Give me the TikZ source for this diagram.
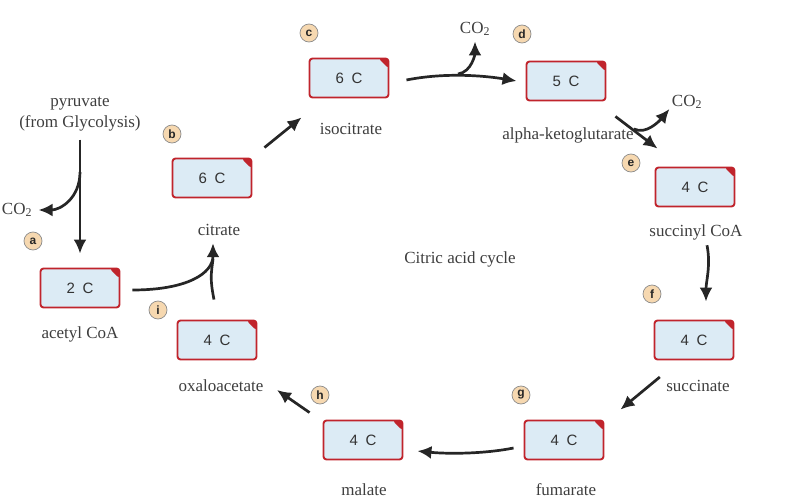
\documentclass[tikz,border=0pt]{standalone}
\usepackage{fontspec}
\setmainfont{Liberation Serif}
\setsansfont{Liberation Sans}
\usetikzlibrary{arrows.meta}
\definecolor{doden}{RGB}{192,36,44}
\definecolor{xanhnhat}{RGB}{220,235,245}
\definecolor{vangnau}{RGB}{246,216,176}
\definecolor{chuxam}{RGB}{62,62,62}
\begin{document}
\begin{tikzpicture}[x=1pt,y=-1pt]
	\tikzset{
		every node/.style={font=\fontsize{17}{21}\selectfont,text=chuxam},
		% hop so cacbon
		hop/.style={draw=doden,fill=xanhnhat,line width=1.9pt,rounded corners=3pt,minimum width=79pt,minimum height=39pt,
			font=\sffamily\fontsize{15}{17}\selectfont,text=black!80,
			path picture={\fill[doden] ([xshift=-10pt]path picture bounding box.north east)--(path picture bounding box.north east)--([yshift=-10pt]path picture bounding box.north east)--cycle;}},
		% buoc phan ung
		buoc/.style={circle,draw=black!45,fill=vangnau,line width=.7pt,inner sep=0pt,minimum size=18pt,
			font=\sffamily\bfseries\fontsize{12}{12}\selectfont,text=black!85},
		% mui ten
		muiten/.style={line width=2.7pt,draw=black!85,-{Latex[length=14pt,width=13pt]}},
		duong/.style={line width=2.7pt,draw=black!85},
	}
	\useasboundingbox (0,0) rectangle (796,498);
	%
	\node[hop] (h2) at (80,288) {2\enspace C};
	\node[hop] (h6b) at (212,178) {6\enspace C};
	\node[hop] (h6c) at (349,78) {6\enspace C};
	\node[hop] (h5) at (566,81) {5\enspace C};
	\node[hop] (h4e) at (695,187) {4\enspace C};
	\node[hop] (h4f) at (694,340) {4\enspace C};
	\node[hop] (h4g) at (564,440) {4\enspace C};
	\node[hop] (h4h) at (363,440) {4\enspace C};
	\node[hop] (h4i) at (217,340) {4\enspace C};
	%
	\node[buoc] (a) at (33,241) {a};
	\node[buoc] (b) at (172,134) {b};
	\node[buoc] (c) at (309,33) {c};
	\node[buoc] (d) at (522,34) {d};
	\node[buoc] (e) at (631,163) {e};
	\node[buoc] (f) at (652,294) {f};
	\node[buoc] (g) at (521,395) {g};
	\node[buoc] (h) at (320,395) {h};
	\node[buoc] (i) at (158,310) {i};
	%
	\node[align=center] (pyr) at (80,114) {pyruvate\\(from Glycolysis)};
	\node (co2a) at (17,210) {CO\textsubscript{2}};
	\node (co2b) at (475,29) {CO\textsubscript{2}};
	\node (co2c) at (687,102) {CO\textsubscript{2}};
	\node (acetyl) at (80,334) {acetyl CoA};
	\node (cit) at (219,230) {citrate};
	\node (iso) at (351,129) {isocitrate};
	\node (akg) at (568,135) {alpha-ketoglutarate};
	\node (sucl) at (696,232) {succinyl CoA};
	\node (succ) at (698,386) {succinate};
	\node (oxa) at (221,386) {oxaloacetate};
	\node (mal) at (364,490) {malate};
	\node (fum) at (566,490) {fumarate};
	\node (chutrinh) at (460,259) {Citric acid cycle};
	%
	\coordinate (r0) at (80,172);
	\coordinate (r1) at (458,74);
	\coordinate (r2) at (634,129);
	%
	\draw[muiten] ([yshift=-5pt]pyr.south) -- ([yshift=14pt]h2.north);
	\draw[muiten] (r0) .. controls +(0,26) and +(22,0) .. ([xshift=3pt]co2a.east);
	\draw[muiten] ([shift={(12pt,-2pt)}]h2.east) .. controls +(55,0) and +(0,30) .. ([shift={(-6pt,-4pt)}]cit.south);
	\draw[duong] ([shift={(-3pt,20pt)}]h4i.north) .. controls +(-4,-20) and +(-2,15) .. ([shift={(-6pt,-20pt)}]cit.south);
	\draw[muiten] ([shift={(12pt,10pt)}]h6b.north east) -- ([shift={(-7pt,-19pt)}]h6c.south west);
	\draw[muiten] ([shift={(17pt,-2pt)}]h6c.east) .. controls +(40,-8) and +(-30,-5) .. ([xshift=-9pt]h5.west);
	\draw[muiten] (r1) .. controls +(14,-2) and +(0,12) .. ([yshift=-2pt]co2b.south);
	\draw[muiten] ([shift={(9pt,-15pt)}]h5.south east) -- ([shift={(3pt,18pt)}]h4e.north west);
	\draw[muiten] (r2) .. controls +(12,6) and +(-10,12) .. ([shift={(1pt,-7pt)}]co2c.west);
	\draw[muiten] ([shift={(11pt,-2pt)}]sucl.south) .. controls +(4,20) and +(0,-20) .. ([shift={(12pt,18pt)}]h4f.north);
	\draw[muiten] ([shift={(-3pt,9pt)}]succ.west) -- ([shift={(16pt,10pt)}]h4g.north east);
	\draw[muiten] ([shift={(-10pt,-8pt)}]h4g.west) .. controls +(-30,6) and +(30,3) .. ([shift={(14pt,-11pt)}]h4h.east);
	\draw[muiten] ([shift={(-13pt,7pt)}]h4h.north west) -- ([shift={(10pt,-4pt)}]oxa.east);
\end{tikzpicture}
\end{document}
